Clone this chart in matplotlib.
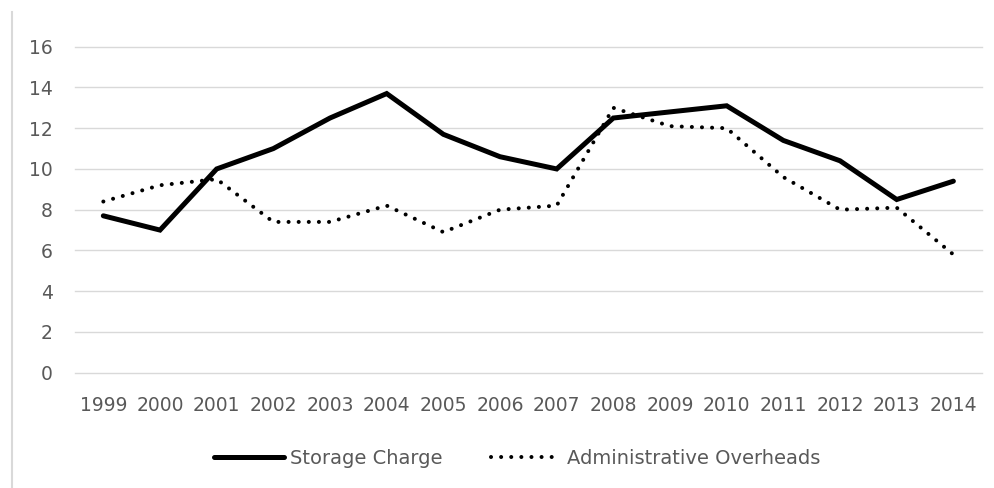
import matplotlib
matplotlib.use("Agg")
import matplotlib.pyplot as plt
from matplotlib.lines import Line2D

years = ["1999", "2000", "2001", "2002", "2003", "2004", "2005", "2006",
         "2007", "2008", "2009", "2010", "2011", "2012", "2013", "2014"]
storage_charge = [7.7, 7.0, 10.0, 11.0, 12.5, 13.7, 11.7, 10.6,
                  10.0, 12.5, 12.8, 13.1, 11.4, 10.4, 8.5, 9.4]
admin_overheads = [8.4, 9.2, 9.5, 7.4, 7.4, 8.2, 6.9, 8.0,
                   8.2, 13.0, 12.1, 12.0, 9.6, 8.0, 8.1, 5.8]
y_ticks = [0, 2, 4, 6, 8, 10, 12, 14, 16]

text_color = "#595959"
grid_color = "#d9d9d9"
plt.rcParams["font.family"] = ["DejaVu Sans"]

fig = plt.figure(figsize=(9.94, 4.88), dpi=100)
ax = fig.add_axes([75 / 994, 1 - 372.7 / 488, 906.7 / 994, (372.7 - 46.7) / 488])

x = list(range(len(years)))
ax.plot(x, storage_charge, color="black", lw=3.6, solid_capstyle="round",
        solid_joinstyle="miter", label="Storage Charge", zorder=3)
ax.plot(x, admin_overheads, color="black", lw=2.9, linestyle=(0, (0.01, 2.5)),
        dash_capstyle="round", label="Administrative Overheads", zorder=3)

ax.set_xlim(-0.5, len(years) - 0.5)
ax.set_ylim(0, 16)
ax.set_yticks(y_ticks)
ax.set_xticks(x)
ax.set_xticklabels(years)
ax.yaxis.grid(True, color=grid_color, lw=1.0)
ax.set_axisbelow(True)
for gl in ax.get_ygridlines():
    gl.set_clip_on(False)
for s in ax.spines.values():
    s.set_visible(False)
ax.tick_params(axis="both", length=0, labelsize=13.5, colors=text_color)
ax.tick_params(axis="y", pad=16)
ax.tick_params(axis="x", pad=17)

leg = fig.legend(loc="center", bbox_to_anchor=(517 / 994, 1 - 458 / 488),
                 ncol=2, frameon=False, fontsize=14, handlelength=3.6,
                 handletextpad=0.3, columnspacing=2.5)
for t in leg.get_texts():
    t.set_color(text_color)

# chart area border on the left
fig.add_artist(Line2D([11.5 / 994, 11.5 / 994], [0, 1 - 12 / 488],
                      color=grid_color, lw=1.5, transform=fig.transFigure))

fig.savefig("out.png", dpi=100, facecolor="white")
